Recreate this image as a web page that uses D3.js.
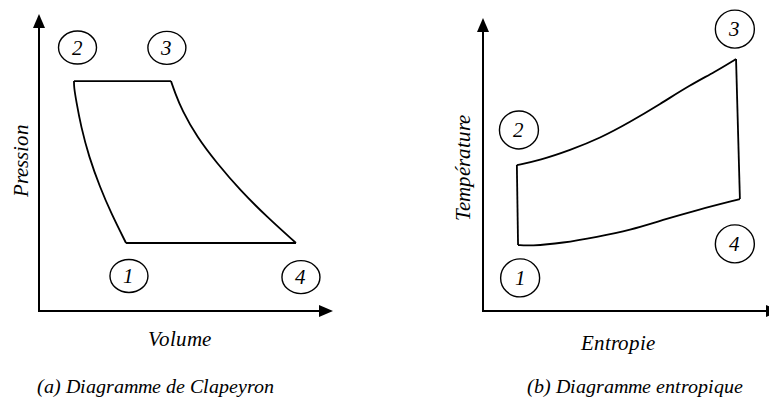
<!DOCTYPE html>
<html>
<head>
<meta charset="utf-8">
<script src="https://cdn.jsdelivr.net/npm/d3@7"></script>
<style>
  @font-face {
    font-family: "CycleSerif";
    font-style: italic;
    font-weight: 400;
    src: local("Liberation Serif Italic"), local("LiberationSerif-Italic"),
         local("Tinos Italic"), local("Tinos-Italic"),
         local("Times New Roman Italic"), local("TimesNewRomanPS-ItalicMT");
  }
  html, body { margin: 0; padding: 0; background: #fff; }
  svg { display: block; }
  svg text.lbl {
    font-family: "CycleSerif", "Liberation Serif", Tinos, "Times New Roman", serif;
    font-style: italic;
    font-weight: 400;
  }
</style>
</head>
<body>
<svg id="cycles" width="769" height="401"></svg>
<script>
// Clapeyron (P-V) cycle, axis units 0..100
const pvCompression = [[29.6,22.9],[24.5,33.0],[20.7,41.8],[17.0,51.9],[14.3,62.0],[12.6,71.0],[11.9,75.4],[11.9,77.4]];
const pvHeating     = [[11.9,77.4],[44.9,77.4]];
const pvExpansion   = [[44.9,77.4],[46.3,73.4],[48.6,67.7],[53.7,58.6],[60.5,49.8],[68.4,40.7],[77.6,31.6],[87.4,22.9]];
const pvCooling     = [[87.4,22.9],[29.6,22.9]];
const pvStates      = ["1","2","3","4"];
const pvStateLabelPos = [[30.6,11.8],[13.1,88.7],[43.5,88.6],[89.1,11.4]];

// Entropic (T-S) cycle, axis units 0..100
const tsCompression = [[11.8,22.5],[11.4,49.8]];
const tsHeating     = [[11.4,49.8],[19.2,51.5],[29.3,54.9],[39.4,59.0],[49.5,64.5],[59.6,70.6],[69.7,77.1],[78.1,81.6],[85.2,86.0]];
const tsExpansion   = [[85.2,86.0],[86.5,38.2]];
const tsCooling     = [[86.5,38.2],[72.1,34.5],[60.6,31.1],[49.5,27.6],[38.4,25.3],[26.9,23.2],[15.8,22.2],[11.8,22.5]];
const tsStates      = ["1","2","3","4"];
const tsStateLabelPos = [[12.5,11.3],[12.1,61.8],[84.8,96.2],[84.8,22.9]];

const panelTitles = ["(a) Diagramme de Clapeyron", "(b) Diagramme entropique"];
const xTitles = ["Volume", "Entropie"];
const yTitles = ["Pression", "Température"];

const svg = d3.select("#cycles");

// italic serif text centred on (cx, baseline), optionally rotated
function addText(str, cx, cy, size, rotate) {
  const t = svg.append("text")
    .attr("class", "lbl")
    .attr("font-size", size)
    .attr("fill", "#000")
    .attr("text-anchor", "middle")
    .text(str);
  if (rotate) {
    t.attr("transform", `translate(${cx},${cy}) rotate(-90)`);
  } else {
    t.attr("x", cx).attr("y", cy);
  }
  return t;
}

function drawPanel(cfg) {
  const x = d3.scaleLinear().domain([0, 100]).range(cfg.xRange);
  const y = d3.scaleLinear().domain([0, 100]).range(cfg.yRange);

  const ox = x(0), oy = y(0), xEnd = x(100), yEnd = y(100);

  // axes with arrow heads
  svg.append("line").attr("x1", ox).attr("y1", oy).attr("x2", xEnd - 12).attr("y2", oy)
    .attr("stroke", "#000").attr("stroke-width", 2);
  svg.append("line").attr("x1", ox).attr("y1", oy + 1).attr("x2", ox).attr("y2", yEnd + 12)
    .attr("stroke", "#000").attr("stroke-width", 2);
  svg.append("path")
    .attr("d", `M${xEnd},${oy} L${xEnd - 14},${oy - 6} L${xEnd - 14},${oy + 6} Z`)
    .attr("fill", "#000");
  svg.append("path")
    .attr("d", `M${ox},${yEnd} L${ox - 6},${yEnd + 14} L${ox + 6},${yEnd + 14} Z`)
    .attr("fill", "#000");

  // cycle legs
  const curved = d3.line().x(d => x(d[0])).y(d => y(d[1])).curve(d3.curveBasis);
  const straight = d3.line().x(d => x(d[0])).y(d => y(d[1]));
  cfg.legs.forEach(leg => {
    svg.append("path")
      .attr("d", (leg.length > 2 ? curved : straight)(leg))
      .attr("fill", "none").attr("stroke", "#000")
      .attr("stroke-width", 1.8).attr("stroke-linejoin", "round");
  });

  // numbered state markers
  cfg.states.forEach((s, i) => {
    const [cx, cy] = cfg.labelPos[i];
    svg.append("ellipse").attr("cx", x(cx)).attr("cy", y(cy))
      .attr("rx", cfg.rx).attr("ry", cfg.ry)
      .attr("fill", "none").attr("stroke", "#000").attr("stroke-width", 1.4);
    addText(s, x(cx), y(cy) + 7, 21, false);
  });

  // axis titles and panel caption
  addText(cfg.xTitle, cfg.xTitlePos[0], cfg.xTitlePos[1], 21, false);
  addText(cfg.yTitle, cfg.yTitlePos[0], cfg.yTitlePos[1], 21, true);
  addText(cfg.title, cfg.titlePos[0], cfg.titlePos[1], 20, false);
}

drawPanel({
  xRange: [39, 333], yRange: [311, 14],
  legs: [pvCompression, pvHeating, pvExpansion, pvCooling],
  states: pvStates, labelPos: pvStateLabelPos, rx: 19, ry: 16.5,
  xTitle: xTitles[0], xTitlePos: [179, 346],
  yTitle: yTitles[0], yTitlePos: [28, 160],
  title: panelTitles[0], titlePos: [155, 393]
});

drawPanel({
  xRange: [483, 780], yRange: [311, 18],
  legs: [tsCompression, tsHeating, tsExpansion, tsCooling],
  states: tsStates, labelPos: tsStateLabelPos, rx: 19.5, ry: 19,
  xTitle: xTitles[1], xTitlePos: [618, 350],
  yTitle: yTitles[1], yTitlePos: [470, 168],
  title: panelTitles[1], titlePos: [635, 393]
});
</script>
</body>
</html>
